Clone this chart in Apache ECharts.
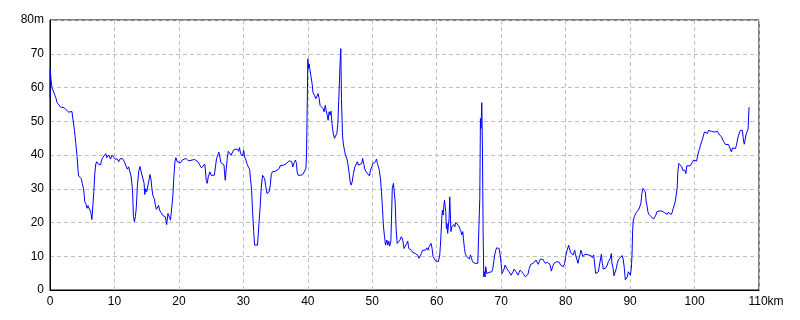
<!DOCTYPE html>
<html>
<head>
<meta charset="utf-8">
<script src="https://cdn.jsdelivr.net/npm/echarts@6/dist/echarts.min.js"></script>
<style>html,body{margin:0;padding:0;background:#fff;}#c{width:800px;height:320px;}</style>
</head>
<body>
<div id="c"></div>
<script>
// distance along the route (km)
const distKm = [
0,0.03,0.15,0.3,0.5,0.7,0.9,1.1,1.4,1.65,2.2,2.5,2.9,3.4,3.6,3.8,4.0,4.2,4.35,4.45,4.65,4.85,5.0,5.2,5.3,5.4,5.6,5.75,5.9,6.15,6.3,6.4,6.5,6.6,6.8,6.95,7.1,7.25,7.5,7.7,7.85,8.0,8.2,8.5,8.65,8.8,8.95,9.1,9.25,9.4,9.6,9.9,10.1,10.3,10.45,10.65,10.85,11.2,11.5,11.7,11.85,12.0,12.2,12.4,12.6,12.8,12.95,13.1,13.25,13.4,13.55,13.75,13.95,14.15,14.4,14.6,14.7,14.85,15.0,15.2,15.35,15.5,15.65,15.8,15.95,16.2,16.35,16.5,16.65,16.85,17.0,17.2,17.35,17.55,17.7,17.9,18.1,18.3,18.55,18.7,18.9,19.07,19.2,19.38,19.53,19.74,20.0,
20.26,20.52,20.78,21.1,21.45,21.76,22.07,22.4,22.7,22.95,23.26,23.5,23.8,24.0,24.1,24.24,24.4,24.55,24.8,25.0,25.3,25.5,25.7,25.85,26.05,26.2,26.36,26.5,26.78,27.0,27.08,27.19,27.34,27.5,27.66,27.8,27.96,28.1,28.33,28.6,28.85,29.1,29.26,29.4,29.57,29.73,29.88,30.04,30.2,30.4,30.55,30.76,30.97,31.1,31.28,31.43,31.6,31.74,32.0,32.2,32.4,32.62,32.78,32.98,33.14,33.3,33.45,33.66,33.8,34.0,34.17,34.33,34.5,34.74,35.0,35.3,35.57,35.7,35.9,36.2,
36.5,36.7,36.9,37.1,37.3,37.5,37.67,37.9,38.08,38.24,38.34,38.5,38.7,38.9,39.22,39.53,39.7,39.8,39.9,40.0,40.1,40.2,40.3,40.46,40.67,40.8,41.03,41.24,41.45,41.6,41.76,41.9,42.17,42.38,42.53,42.7,42.84,43.0,43.15,43.3,43.46,43.6,43.77,43.93,44.13,44.3,44.5,44.65,44.8,45.0,45.12,45.22,45.38,45.53,45.7,45.84,46.05,46.2,46.36,46.57,46.72,46.88,47.08,47.3,47.5,47.7,47.86,48.0,48.17,48.38,48.5,48.7,48.84,49.05,49.2,49.36,49.57,49.72,49.93,50.1,50.3,50.5,50.65,50.8,50.96,51.1,51.27,51.43,51.58,51.74,51.9,52.05,52.26,52.4,52.57,52.7,52.88,53.0,53.1,53.29,53.45,53.55,53.7,53.86,54.0,54.17,54.3,54.5,54.7,
54.93,55.14,55.35,55.5,55.66,55.86,56.07,56.28,56.5,56.7,56.9,57.1,57.26,57.42,57.62,57.83,58.04,58.25,58.45,58.66,58.8,58.97,59.12,59.28,59.43,59.64,59.85,60.06,60.26,60.47,60.62,60.78,60.88,61.0,61.09,61.2,61.3,61.4,61.5,61.6,61.7,61.82,61.92,62.02,62.12,62.2,62.33,62.49,62.64,62.8,62.95,63.1,63.26,63.42,63.57,63.73,63.88,64.04,64.14,64.3,64.45,64.66,64.87,65.07,65.23,65.38,65.54,65.75,65.95,66.16,66.37,66.52,66.68,66.78,66.88,66.99,67.09,67.2,67.3,67.4,67.5,67.6,67.76,67.92,68.13,68.33,68.54,68.7,68.85,69.0,69.16,69.3,69.52,69.68,69.83,69.99,70.14,70.3,70.45,70.6,70.76,70.92,71.07,71.23,71.39,71.54,71.7,71.85,72.0,72.16,72.32,72.47,72.63,72.78,72.94,
73.1,73.25,73.4,73.55,73.74,73.95,74.15,74.36,74.57,74.78,74.98,75.19,75.4,75.6,75.76,75.91,76.07,76.28,76.48,76.69,76.84,77.0,77.16,77.36,77.57,77.78,77.98,78.19,78.4,78.6,78.81,79.02,79.22,79.43,79.64,79.85,80.0,80.16,80.3,80.47,80.62,80.78,80.98,81.19,81.4,81.55,81.76,81.91,82.07,82.22,82.38,82.54,82.69,82.85,83.0,83.16,83.31,83.52,83.73,83.93,84.14,84.35,84.5,84.66,84.86,85.07,85.23,85.38,85.54,85.69,85.85,86.05,86.26,86.47,86.62,86.78,86.93,87.09,87.19,87.35,87.5,87.71,87.86,88.02,88.17,88.33,88.48,88.64,88.8,88.95,89.11,89.26,89.42,89.57,89.73,89.88,90.04,90.19,90.3,90.4,90.5,90.66,90.81,90.97,
91.18,91.38,91.5,91.68,91.83,92.0,92.2,92.35,92.5,92.66,92.76,92.92,93.13,93.28,93.43,93.64,93.85,94.0,94.16,94.31,94.52,94.73,94.93,95.14,95.29,95.45,95.6,95.76,95.91,96.07,96.22,96.38,96.53,96.69,96.84,97.0,97.15,97.3,97.41,97.56,97.72,97.87,98.03,98.18,98.34,98.5,98.65,98.8,98.96,99.11,99.32,99.53,99.68,99.84,99.99,100.15,100.3,100.46,100.6,100.77,100.92,101.08,101.23,101.39,101.54,101.7,101.85,102.0,102.16,102.31,102.47,102.62,102.78,102.93,103.09,103.24,103.4,103.55,103.7,103.86,104.02,104.17,104.33,104.48,104.64,104.79,104.95,105.1,105.26,105.41,105.57,105.72,105.88,106.03,106.19,106.34,106.5,106.65,106.8,106.96,107.11,107.27,107.43,107.53,107.63,107.73,107.84,107.99,108.15,108.3,108.4,108.46
];
// elevation (m)
const elevM = [
57,65.5,62.5,60,59.5,58,57,55.5,54.8,54.2,54,53.4,52.7,52.9,52.5,47.3,43.4,39.6,35.5,33.8,34,33,31.6,30,28.3,26.1,25.4,24.2,25,24.7,23.2,22.2,20.9,23.7,29.1,34.5,37.3,38,37.3,37.4,37.1,38.5,39.3,39.4,40.4,39.2,38.8,40,39.4,38.8,40,40.4,38.8,38.3,38.8,38,38.8,39,38.2,38.7,36.5,35.8,36.5,36,33.5,29.6,21.7,20.2,21.7,24.7,30.6,35,36.6,35,35,31.6,28.3,30,29.1,29.3,32.5,34.2,33,30.3,28.1,26.9,25.1,23.9,23.9,25.1,23.7,23,22.7,22,22.2,21.7,19.4,22.7,21.4,20.7,24.7,28.1,33,38,39.2,38,38.5,
37.7,38.5,38.8,39,38.3,38.8,38.5,38.7,38.3,38,37,36.2,35.8,37.3,35.8,32.5,31.6,33.5,35,34,34.2,34,37,39,40.1,40.9,39.4,37.8,37.3,37,34.7,32.5,35.8,39,41.1,40.7,40.9,39.9,40.9,41.7,41.4,41.7,41.1,42.2,40.4,40.9,39.7,41.4,39.4,38.5,37.5,36.5,35.8,33,29.6,23.2,17.3,13.3,13.3,13.3,19.2,25.1,30.5,34,34.5,33,31,28.6,28.1,29.1,31,34.2,35,35.3,35.2,35.5,36,36.8,36.5,37,
37,37.5,37,38.3,37.8,38,36.5,37.8,38.5,37.5,35,34,33.5,34,34.2,34,36,40,53.3,68.5,65.6,67,65.6,63.6,61.1,58.5,57.7,56.7,57.2,58.2,56.7,54.7,54.7,53.7,52.8,54.7,53.3,51.8,50.3,52.8,51.8,53,48.9,46.6,44.9,44.4,46.4,48.9,56.2,67,71.5,56.7,45.9,42.9,41.4,39.9,39,37.5,35.5,32,31.1,32,34.5,36.5,37,38,37,37.5,36.5,37.5,39,37.2,35.8,35,35.5,34.5,33.8,35.5,36.5,37.5,37,38,38.8,37.5,36.5,35.3,33,29.1,24.2,18.7,15.8,13.3,14.8,13.3,14.5,13,14.3,22.2,30.1,31.6,32,26.1,18.2,13.8,13.5,14.3,14.8,15.8,15.1,
12.3,12.8,13.8,14.5,12.3,12.5,11.8,11.1,11.1,10.8,10.4,10.2,9.4,10.1,10.8,11.8,12.3,11.8,12.5,11.8,12.8,12.3,13.8,12.3,9.9,9.4,8.6,8.9,8.4,10.4,14.8,21.2,23.7,22.2,24.7,26.6,27.1,23.2,18.2,19.7,16.8,19.2,21.2,27.6,22.2,17.3,18.7,18.2,19.4,18.7,20,20.2,19.7,19,18.2,17.5,16.3,17.3,15.3,12.3,10.6,9.9,9.6,9.2,10.4,9.6,8.4,8.4,7.9,8.2,7.9,7.4,27.1,50.8,47.9,55.5,42.4,16.8,3.9,5.4,3.9,6.9,4.9,5.2,5.2,5.2,5.4,6.4,8.4,10.4,11.8,12.5,12.8,12.3,10.6,7.9,4.9,5.6,6.2,7.4,7.6,6.2,5.9,5.4,5.2,4.4,3.9,5.4,6.2,6.6,5.4,4.9,4.4,5.2,5.9,
5.6,5.9,4.9,4.4,3.9,3.9,4.6,6.4,7.6,7.9,7.9,8.4,8.9,8.6,7.6,8.4,9.1,9.1,9.1,8.6,7.9,8.4,8.2,7.9,7.6,5.6,6.9,7.9,8.4,8.4,7.9,8.2,7.4,7.4,6.9,7.9,9.9,11.3,11.3,13.3,12.1,11.1,10.8,10.4,11.8,10.4,10.8,7.9,9.4,10.4,11.8,10.8,9.9,10.4,10.6,11.1,10.2,10.4,9.9,10.2,9.6,10.4,10.4,4.9,4.9,5.4,4.9,5.4,10.6,7.9,6.2,6.2,6.6,7.4,8.4,7.9,9.4,10.8,7.9,6.6,4.2,4.2,6.4,7.9,8.9,9.4,9.6,9.9,10.2,8.9,6.4,3.0,2.5,3.9,5.4,4.9,4.4,6.4,10.4,17.8,20.7,21.7,22.4,23,
23.4,24,24.2,25.7,28.6,30.1,30.1,29.1,26.1,24.7,23.2,22.4,22,21.7,21.2,21,21.2,22.2,23.2,23.6,23.4,23.6,23.4,23.7,23,22.5,23,22.4,23,22.6,23,22.4,23,24.2,25.1,26.1,26.6,30.1,35,37.5,37.8,37,36.5,35.5,35,35.5,34.5,36.8,37,37,36.8,37.2,37.9,38.5,38.8,38.2,38.2,39.4,40.9,41.7,42.9,43.4,44.7,45.9,46.8,47.1,47.1,46.4,47.3,47,46.8,47,46.8,47.3,46.8,47,46.8,47,46.6,46,45.7,45.4,44.7,44.1,43.7,43.1,42.9,42.9,43.1,42.4,41.9,40.9,42.1,42.4,42.1,41.9,42.9,44.4,45.7,46,47.3,47.6,47.3,45.4,43.9,43.2,44.4,46,47,47.6,47.8,54.2
];
// axis tick labels
const xTickUnit = 'km';
const yTickUnit = 'm';

const points = distKm.map((d, i) => [d, elevM[i]]);
const font = '"Liberation Sans", Arial, sans-serif';
const chart = echarts.init(document.getElementById('c'), null, {renderer: 'canvas'});
chart.setOption({
  animation: false,
  backgroundColor: '#ffffff',
  grid: {left: 50, right: 41, top: 20, bottom: 30, show: true, borderColor: '#000', borderWidth: 1, backgroundColor: 'transparent'},
  xAxis: {
    type: 'value', min: 0, max: 110, interval: 10,
    axisLine: {show: true, onZero: false, lineStyle: {color: '#000', width: 1}},
    axisTick: {show: false},
    splitLine: {show: true, lineStyle: {color: '#c0c0c0', type: [4, 3], width: 1}},
    axisLabel: {
      color: '#000', fontFamily: font, fontSize: 12, margin: 6,
      formatter: v => v === 110 ? '{u|110' + xTickUnit + '}' : String(v),
      rich: {u: {padding: [0, 0, 0, 14], color: '#000', fontFamily: font, fontSize: 12}}
    }
  },
  yAxis: {
    type: 'value', min: 0, max: 80, interval: 10,
    axisLine: {show: true, lineStyle: {color: '#000', width: 1}},
    axisTick: {show: false},
    splitLine: {show: true, lineStyle: {color: '#c0c0c0', type: [4, 3], width: 1}},
    axisLabel: {
      color: '#000', fontFamily: font, fontSize: 12, margin: 6,
      formatter: v => v === 80 ? '80' + yTickUnit : String(v)
    }
  },
  series: [{
    type: 'line', data: points, showSymbol: false, symbol: 'none',
    lineStyle: {color: '#0000ff', width: 1}, itemStyle: {color: '#0000ff'}
  }]
});
</script>
</body>
</html>
